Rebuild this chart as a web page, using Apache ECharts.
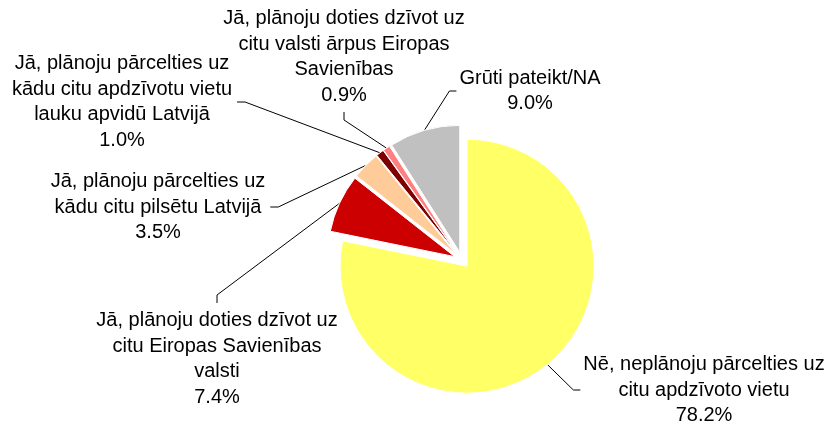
<!DOCTYPE html>
<html>
<head>
<meta charset="utf-8">
<script src="https://cdn.jsdelivr.net/npm/echarts@6/dist/echarts.min.js"></script>
<style>
html, body { margin: 0; padding: 0; background: #fff; }
#chart { width: 830px; height: 427px; }
</style>
</head>
<body>
<div id="chart"></div>
<script>
var categories = [
    'Nē, neplānoju pārcelties uz\ncitu apdzīvoto vietu',
    'Jā, plānoju doties dzīvot uz\ncitu Eiropas Savienības\nvalsti',
    'Jā, plānoju pārcelties uz\nkādu citu pilsētu Latvijā',
    'Jā, plānoju pārcelties uz\nkādu citu apdzīvotu vietu\nlauku apvidū Latvijā',
    'Jā, plānoju doties dzīvot uz\ncitu valsti ārpus Eiropas\nSavienības',
    'Grūti pateikt/NA'
];
var values = [78.2, 7.4, 3.5, 1.0, 0.9, 9.0];
var colors = ['#FFFF66', '#CC0000', '#FFCC99', '#800000', '#FF8080', '#C0C0C0'];

// where each label block sits and from which side the leader line comes in
var labelPos = [
    { x: 704, y: 390, side: 'left' },
    { x: 217, y: 359, side: 'top' },
    { x: 158, y: 207, side: 'right' },
    { x: 122, y: 102, side: 'right' },
    { x: 344, y: 57, side: 'bottom' },
    { x: 530, y: 91, side: 'left' }
];

var pieCenter = [462, 260];
var pieRadius = 127;
var explode = 8;

var chart = echarts.init(document.getElementById('chart'));

var sliceData = values.map(function (v, i) {
    return {
        name: categories[i],
        value: v,
        selected: true,
        itemStyle: { color: colors[i] }
    };
});

var labelData = values.map(function (v, i) {
    return { name: categories[i], value: v };
});

var option = {
    animation: false,
    series: [
        {
            // exploded slices
            type: 'pie',
            center: pieCenter,
            radius: pieRadius,
            startAngle: 90,
            clockwise: true,
            selectedMode: 'multiple',
            selectedOffset: explode,
            silent: true,
            emphasis: { disabled: true },
            itemStyle: { borderColor: '#fff', borderWidth: 1 },
            label: { show: false },
            labelLine: { show: false },
            data: sliceData
        },
        {
            // same pie, invisible, only carries labels and leader lines
            type: 'pie',
            center: pieCenter,
            radius: pieRadius,
            startAngle: 90,
            clockwise: true,
            avoidLabelOverlap: false,
            silent: true,
            emphasis: { disabled: true },
            itemStyle: { color: 'transparent', borderWidth: 0 },
            label: {
                show: true,
                position: 'outside',
                formatter: function (p) {
                    return p.name + '\n' + p.value.toFixed(1) + '%';
                },
                fontFamily: 'Liberation Sans, Arial, sans-serif',
                fontSize: 20,
                lineHeight: 25.5,
                color: '#000',
                align: 'center',
                overflow: 'none'
            },
            labelLine: {
                show: true,
                lineStyle: { color: '#000', width: 1 }
            },
            labelLayout: function (p) {
                var pos = labelPos[p.dataIndex];
                var w = p.labelRect.width, h = p.labelRect.height;
                var end, elbow;
                if (pos.side === 'left') {
                    end = [pos.x - w / 2 - 3, pos.y];
                    elbow = [end[0] - 7, end[1]];
                } else if (pos.side === 'right') {
                    end = [pos.x + w / 2 + 5, pos.y];
                    elbow = [end[0] + 8, end[1]];
                } else if (pos.side === 'top') {
                    end = [pos.x, pos.y - h / 2 - 5];
                    elbow = [end[0], end[1] - 8];
                } else {
                    end = [pos.x, pos.y + h / 2 + 4];
                    elbow = [end[0], end[1] + 8];
                }
                var res = {
                    x: pos.x,
                    y: pos.y,
                    align: 'center',
                    verticalAlign: 'middle'
                };
                if (p.labelLinePoints && p.labelLinePoints.length) {
                    // push the anchor out with the exploded slice
                    var a = p.labelLinePoints[0];
                    var vx = a[0] - pieCenter[0], vy = a[1] - pieCenter[1];
                    var len = Math.sqrt(vx * vx + vy * vy) || 1;
                    var anchor = [a[0] + vx / len * explode, a[1] + vy / len * explode];
                    res.labelLinePoints = [anchor, elbow, end];
                }
                return res;
            },
            data: labelData
        }
    ]
};

chart.setOption(option);
</script>
</body>
</html>
